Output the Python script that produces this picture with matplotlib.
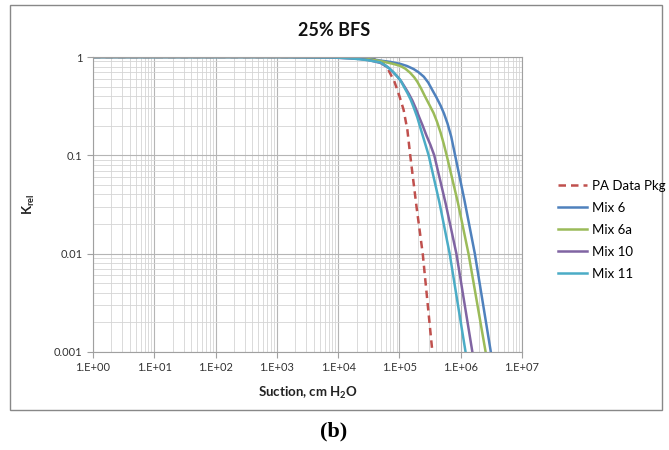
import numpy as np
import matplotlib
matplotlib.use('Agg')
import matplotlib.pyplot as plt
from matplotlib.patches import Rectangle

plt.rcParams['font.family'] = ['Lato', 'DejaVu Sans']
plt.rcParams['mathtext.fontset'] = 'custom'
plt.rcParams['mathtext.rm'] = 'Lato'
plt.rcParams['mathtext.bf'] = 'Lato:bold'

# values (suction in cm H2O, relative permeability)
pa_x = [1, 2.0e4, 2.7e4, 3.4e4, 4.1e4, 4.9e4, 5.7e4, 6.6e4, 8.3e4, 1.0e5, 1.17e5, 1.35e5, 1.5e5, 1.9e5,
        2.4e5, 3.45e5, 3.6e5]
pa_k = [1, 1.0, 0.993, 0.977, 0.95, 0.91, 0.83, 0.74, 0.56, 0.40, 0.29, 0.18, 0.10, 0.03,
        0.01, 0.001, 0.0007]

mix6_x = [1, 1e3, 1.1e4, 3.0e4, 4.9e4, 7.2e4, 1.04e5, 1.33e5, 1.7e5, 2.05e5, 2.5e5, 2.95e5, 3.45e5,
          4.0e5, 4.7e5, 5.35e5, 6.1e5, 7.0e5, 7.9e5, 1.15e6, 1.7e6, 3.1e6, 3.45e6]
mix6_k = [1, 1, 0.99, 0.966, 0.92, 0.89, 0.85, 0.81, 0.755, 0.70, 0.63, 0.55, 0.46,
          0.39, 0.32, 0.265, 0.21, 0.155, 0.108, 0.035, 0.01, 0.001, 0.00066]

mix6a_x = [1, 1e3, 1.1e4, 2.3e4, 4.9e4, 8.0e4, 1.04e5, 1.25e5, 1.5e5, 1.75e5, 1.96e5, 2.25e5, 2.6e5,
           3.05e5, 3.6e5, 4.1e5, 4.7e5, 5.3e5, 5.9e5, 9.0e5, 1.34e6, 2.55e6, 2.9e6]
mix6a_k = [1, 1, 0.993, 0.977, 0.91, 0.85, 0.81, 0.76, 0.69, 0.62, 0.56, 0.48, 0.40,
           0.33, 0.27, 0.22, 0.17, 0.13, 0.10, 0.033, 0.01, 0.001, 0.00066]

mix10_x = [1, 1e3, 7.5e3, 2.3e4, 3.4e4, 4.9e4, 6.8e4, 9.3e4, 1.08e5, 1.26e5, 1.43e5, 1.63e5, 1.85e5,
           2.1e5, 2.4e5, 2.75e5, 3.2e5, 3.7e5, 5.7e5, 8.5e5, 1.55e6, 1.75e6]
mix10_k = [1, 1, 0.99, 0.955, 0.92, 0.87, 0.77, 0.63, 0.56, 0.48, 0.42, 0.36, 0.30,
           0.245, 0.20, 0.16, 0.128, 0.10, 0.032, 0.01, 0.001, 0.00066]

mix11_x = [1, 1e3, 2.4e3, 8.3e3, 1.7e4, 3.0e4, 4.9e4, 6.3e4, 8.0e4, 1.04e5, 1.18e5, 1.35e5, 1.52e5,
           1.7e5, 1.95e5, 2.2e5, 2.55e5, 3.0e5, 4.5e5, 6.6e5, 1.2e6, 1.35e6]
mix11_k = [1, 1, 0.995, 0.99, 0.965, 0.93, 0.88, 0.80, 0.70, 0.58, 0.50, 0.43, 0.37,
           0.31, 0.245, 0.19, 0.14, 0.10, 0.033, 0.01, 0.001, 0.00066]

x_ticks = [1, 10, 100, 1e3, 1e4, 1e5, 1e6, 1e7]
x_labels = ['1.E+00', '1.E+01', '1.E+02', '1.E+03', '1.E+04', '1.E+05', '1.E+06', '1.E+07']
y_ticks = [0.001, 0.01, 0.1, 1]
y_labels = ['0.001', '0.01', '0.1', '1']

fig = plt.figure(figsize=(6.69, 4.5), dpi=100)
ax = fig.add_axes([93 / 669, 1 - 352 / 450, (522 - 93) / 669, (352 - 57) / 450])

lw = 1.8
ax.plot(pa_x, pa_k, color='#C0504D', lw=lw, dashes=(3, 2), label='PA Data Pkg')
ax.plot(mix6_x, mix6_k, color='#4F81BD', lw=lw, label='Mix 6')
ax.plot(mix6a_x, mix6a_k, color='#9BBB59', lw=lw, label='Mix 6a')
ax.plot(mix10_x, mix10_k, color='#8064A2', lw=lw, label='Mix 10')
ax.plot(mix11_x, mix11_k, color='#4BACC6', lw=lw, label='Mix 11')

ax.set_xscale('log')
ax.set_yscale('log')
ax.set_xlim(1, 1e7)
ax.set_ylim(0.001, 1)
ax.set_xticks(x_ticks, x_labels)
ax.set_yticks(y_ticks, y_labels)
ax.tick_params(which='major', length=4, color='#a0a0a0', labelsize=8, labelcolor='#333333')
ax.tick_params(which='minor', length=0)
ax.grid(which='major', color='#b5b5b5', lw=0.8)
ax.grid(which='minor', color='#d5d5d5', lw=0.6)
for s in ax.spines.values():
    s.set_color('#a0a0a0')
    s.set_linewidth(0.8)

ax.set_xlabel(r'Suction, cm H$_\mathbf{2}$O', fontsize=9.5, fontweight='bold', color='#222222', labelpad=8)
ax.set_ylabel(r'K$_\mathbf{rel}$', fontsize=9.5, fontweight='bold', color='#222222', labelpad=12)
fig.text(334 / 669, 1 - 30 / 450, '25% BFS', ha='center', va='center', fontsize=13, fontweight='bold', color='#111111')

fig.legend(loc='upper left', bbox_to_anchor=(546 / 669, 1 - 168 / 450), frameon=False,
           fontsize=9.5, handlelength=2.2, handletextpad=0.4, labelspacing=0.76)

fig.patches.append(Rectangle((10 / 669, 1 - 410 / 450), 652 / 669, 405 / 450, transform=fig.transFigure,
                             fill=False, edgecolor='#888888', lw=1))
fig.text(334 / 669, 1 - 431 / 450, '(b)', ha='center', va='center', fontsize=16, fontweight='bold',
         family='Liberation Serif')

fig.savefig('out.png', dpi=100)
